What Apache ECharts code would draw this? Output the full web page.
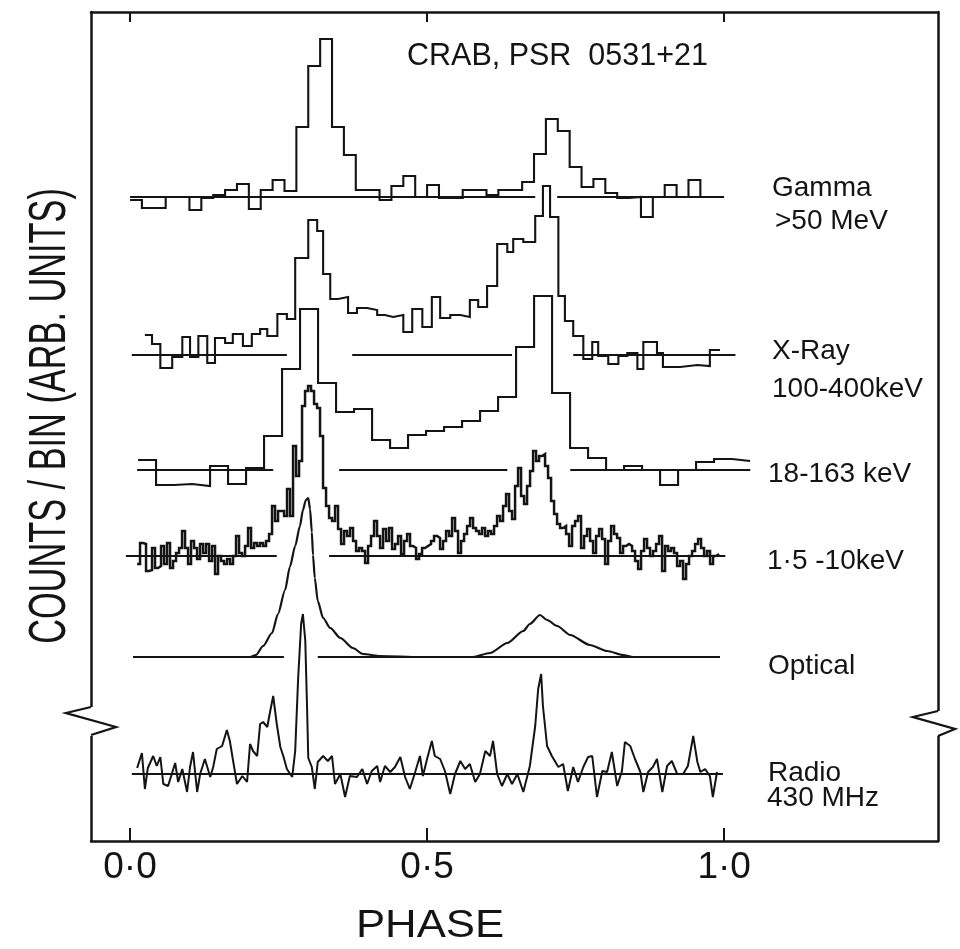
<!DOCTYPE html>
<html>
<head>
<meta charset="utf-8">
<script src="https://cdn.jsdelivr.net/npm/echarts@6/dist/echarts.min.js"></script>
<style>
html,body{margin:0;padding:0;background:#fff}
#chart{width:960px;height:949px}
</style>
</head>
<body>
<div id="chart"></div>
<script>
// ---- phase axis ----
const phaseTicks = [0, 0.5, 1];
const phaseTickLabels = ['0·0', '0·5', '1·0'];

// ---- Gamma >50 MeV : 50 equal bins starting at phase 0 ----
const gammaStart = 0;
const gammaWidth = 0.02;
const gammaCounts = [-3, -11, -11, 0, 0, -13, -1, 2, 7, 13, -12, 7, 17, 6, 70, 131, 158, 70, 42, 7,
  7, -3, 11, 21, 0, 12, -1, -1, 7, 7, 2, 7, 7, 15, 43, 78, 66, 30, 10, 18,
  4, -1, 0, -20, 0, 12, 0, 17, 0, 0];

// ---- X-Ray 100-400 keV : bin edges (phase) and counts ----
const hardEdges = [0.025, 0.037, 0.051, 0.071, 0.088, 0.101, 0.115, 0.130, 0.143, 0.160,
  0.173, 0.190, 0.205, 0.219, 0.231, 0.248, 0.264, 0.278, 0.300, 0.315,
  0.325, 0.337, 0.350, 0.367, 0.382, 0.399, 0.416, 0.429, 0.443, 0.460,
  0.475, 0.492, 0.508, 0.522, 0.539, 0.556, 0.572, 0.586, 0.601, 0.618,
  0.635, 0.645, 0.662, 0.682, 0.695, 0.707, 0.721, 0.732, 0.746, 0.763,
  0.778, 0.788, 0.805, 0.822, 0.837, 0.854, 0.864, 0.887, 0.897, 0.926,
  0.955, 0.976, 0.993];
const hardCounts = [20, 11, -13, -2, 18, -2, 19, -8, 17, 12,
  21, 9, 21, 26, 19, 41, 36, 97, 135, 124,
  81, 56, 58, 42, 47, 45, 40, 38, 40, 23,
  46, 28, 58, 37, 40, 38, 55, 48, 69, 111,
  103, 116, 113, 139, 169, 138, 59, 34, 19, -4,
  13, -1, -9, -1, 2, -14, 13, 2, -12, -10,
  -11, 5];

// ---- 18-163 keV : 34 equal bins ----
const midStart = 0.0135;
const midWidth = 0.0303;
const midCounts = [10, -15, -14, -16, 4, -14, 2, 34, 101, 161, 87, 58, 61, 30, 22, 35, 39, 43, 49, 59,
  73, 123, 174, 77, 22, 12, 0, 4, 0, -15, 0, 8, 11, 9];

// ---- 1.5-10 keV : 194 fine bins ----
const softStart = 0.0118;
const softWidth = 0.00505;
const softCounts = [
  -8, 13, 12, -15, -14, 8, -12, -10, 10, -8,
  13, -12, -5, 3, 8, 25, 8, -8, 15, 8,
  -3, 12, 3, 12, -5, 10, -18, 0, -5, -8,
  -3, -8, 0, 20, 3, 0, 10, 28, 8, 13,
  10, 13, 10, 15, 22, 50, 35, 45, 45, 40,
  67, 40, 110, 80, 95, 150, 165, 170, 165, 152,
  148, 120, 68, 50, 38, 35, 50, 27, 12, 25,
  20, 28, 15, 5, 8, 5, -7, 10, 20, 35,
  20, 8, 27, 15, 28, 7, 12, 20, 2, 15,
  22, 10, 8, -3, 2, 8, 10, 12, 15, 20,
  18, 7, 15, 25, 20, 38, 25, 3, 15, 22,
  30, 38, 28, 25, 22, 28, 20, 25, 22, 30,
  40, 35, 50, 62, 45, 37, 70, 88, 60, 52,
  70, 85, 105, 95, 100, 102, 90, 78, 55, 42,
  32, 28, 30, 22, 10, 30, 35, 40, 8, 20,
  27, 15, 3, 20, 27, 17, -8, 15, 30, 22,
  18, 3, 10, 12, 10, 5, -5, -13, 5, 17,
  8, 0, 5, 12, 20, -15, 10, 5, 8, 3,
  -10, -5, -23, -8, 0, 5, 12, 17, 8, 0,
  5, -8, 0, 2];

// ---- Optical light curve ----
const opticalPhase = [0.005, 0.202, 0.212, 0.224, 0.239, 0.249, 0.261, 0.269, 0.278, 0.286,
  0.291, 0.296, 0.300, 0.303, 0.306, 0.308, 0.311, 0.316, 0.325, 0.337,
  0.354, 0.375, 0.392, 0.421, 0.488, 0.577, 0.606, 0.635, 0.662, 0.673,
  0.690, 0.702, 0.719, 0.741, 0.774, 0.803, 0.830, 0.847, 0.993];
const opticalFlux = [0, 0, 2, 11, 24, 43, 67, 90, 111, 131,
  147, 157, 159, 148, 125, 102, 79, 56, 39, 29,
  19, 9, 3, 1, 0, 0, 4, 14, 26, 33,
  42, 37, 31, 22, 12, 6, 2, 0, 0];

// ---- Radio 430 MHz profile ----
const radioPhase = [0.012, 0.020, 0.025, 0.030, 0.039, 0.045, 0.051, 0.056, 0.064, 0.076,
  0.081, 0.088, 0.096, 0.101, 0.106, 0.113, 0.118, 0.126, 0.135, 0.140,
  0.146, 0.155, 0.163, 0.168, 0.173, 0.180, 0.189, 0.197, 0.202, 0.207,
  0.214, 0.219, 0.224, 0.231, 0.236, 0.241, 0.247, 0.253, 0.258, 0.264,
  0.273, 0.278, 0.283, 0.288, 0.291, 0.295, 0.298, 0.300, 0.306, 0.311,
  0.316, 0.325, 0.333, 0.340, 0.345, 0.354, 0.362, 0.370, 0.382, 0.391,
  0.399, 0.407, 0.416, 0.421, 0.429, 0.438, 0.446, 0.455, 0.463, 0.471,
  0.480, 0.488, 0.493, 0.500, 0.508, 0.513, 0.522, 0.530, 0.539, 0.547,
  0.556, 0.564, 0.572, 0.581, 0.589, 0.598, 0.606, 0.611, 0.618, 0.626,
  0.635, 0.643, 0.652, 0.662, 0.673, 0.682, 0.687, 0.692, 0.695, 0.702,
  0.710, 0.721, 0.729, 0.737, 0.746, 0.754, 0.763, 0.771, 0.778, 0.786,
  0.795, 0.803, 0.811, 0.820, 0.828, 0.833, 0.842, 0.850, 0.859, 0.864,
  0.872, 0.880, 0.887, 0.896, 0.904, 0.912, 0.921, 0.931, 0.939, 0.948,
  0.955, 0.960, 0.968, 0.976, 0.981, 0.988];
const radioFlux = [6, 21, -15, 6, 18, 8, 17, -10, -12, 11,
  -8, 5, -18, 7, 22, -18, 0, 15, -3, 7,
  25, 28, 44, 33, 15, -10, -2, -8, 30, 23,
  18, 50, 52, 47, 63, 78, 50, 27, 18, 5,
  -3, 23, 96, 150, 160, 133, 66, 16, 7, -15,
  12, 18, 13, 18, -10, 0, -23, -2, -3, 5,
  -10, 3, 8, -8, 8, 2, 7, 17, -3, -15,
  2, 18, -2, 15, 33, 18, 15, 3, -20, 0,
  13, 5, 10, -8, 0, 23, 18, 33, 0, -12,
  0, -10, 0, -18, 8, 48, 85, 100, 68, 28,
  18, 7, 10, -17, 7, -8, 7, 17, 18, -23,
  3, 2, 22, -12, 3, 32, 28, 15, 2, -18,
  2, 7, 15, -18, 8, 13, 0, 0, 8, 38,
  12, 2, 5, -2, -23, 2];

// ---- band labels ----
const bandLabels = ['Gamma', '>50 MeV', 'X-Ray', '100-400keV', '18-163 keV', '1·5 -10keV', 'Optical', 'Radio', '430 MHz'];
const plotTitle = 'CRAB, PSR  0531+21';
const xName = 'PHASE';
const yName = 'COUNTS / BIN (ARB. UNITS)';

// ---- layout: vertical offset of each profile and the stretches of its zero line ----
const level = { gamma: 644, hard: 486, mid: 371, soft: 285, optical: 184, radio: 67 };
const zeroRuns = {
  gamma: [[0, 0.682], [0.719, 0.997]],
  hard: [[0.003, 0.264], [0.374, 0.643], [0.746, 1.019]],
  mid: [[0.012, 0.241], [0.352, 0.635], [0.741, 1.044]],
  soft: [[-0.007, 0.247], [0.335, 1.002]],
  optical: [[0.005, 0.259], [0.316, 0.993]],
  radio: [[0.003, 0.998]]
};

const INK = '#141414';
const FONT = "'Liberation Sans', Arial, sans-serif";

function uniformEdges(start, width, n) {
  const e = [];
  for (let i = 0; i <= n; i++) e.push(start + i * width);
  return e;
}
function histData(edges, counts, base) {
  const d = counts.map((c, i) => [edges[i], base + c]);
  d.push([edges[counts.length], base + counts[counts.length - 1]]);
  return d;
}
function curveData(ph, val, base) {
  return ph.map((p, i) => [p, base + val[i]]);
}

const series = [];
Object.keys(zeroRuns).forEach(k => {
  zeroRuns[k].forEach(r => {
    series.push({
      type: 'line', symbol: 'none', silent: true,
      data: [[r[0], level[k]], [r[1], level[k]]],
      lineStyle: { color: INK, width: 1.9 }
    });
  });
});
function hist(data, w) {
  return { type: 'line', step: 'end', symbol: 'none', data, lineStyle: { color: INK, width: w, join: 'miter' } };
}
series.push(hist(histData(uniformEdges(gammaStart, gammaWidth, gammaCounts.length), gammaCounts, level.gamma), 2.1));
series.push(hist(histData(hardEdges, hardCounts, level.hard), 2.1));
series.push(hist(histData(uniformEdges(midStart, midWidth, midCounts.length), midCounts, level.mid), 2.1));
series.push(hist(histData(uniformEdges(softStart, softWidth, softCounts.length), softCounts, level.soft), 2.5));
series.push({ type: 'line', symbol: 'none', smooth: 0.25, smoothMonotone: 'x',
  data: curveData(opticalPhase, opticalFlux, level.optical), lineStyle: { color: INK, width: 2.2 } });
series.push({ type: 'line', symbol: 'none',
  data: curveData(radioPhase, radioFlux, level.radio), lineStyle: { color: INK, width: 2 } });

const xMin = -0.0657, xMax = 1.36;
const frameLine = { show: true, onZero: false, lineStyle: { color: INK, width: 2.5 } };

const chart = echarts.init(document.getElementById('chart'));
chart.setOption({
  animation: false,
  backgroundColor: '#ffffff',
  grid: { left: 91, right: 22, top: 12, bottom: 108 },
  xAxis: [
    {
      type: 'value', min: xMin, max: xMax, position: 'bottom',
      axisLine: frameLine,
      axisTick: { show: true, inside: true, length: 13, customValues: phaseTicks, lineStyle: { color: INK, width: 2 } },
      axisLabel: {
        customValues: phaseTicks, margin: 8, fontSize: 37, color: INK, fontFamily: FONT,
        formatter: v => phaseTickLabels[phaseTicks.findIndex(t => Math.abs(t - v) < 1e-6)]
      },
      splitLine: { show: false }
    },
    {
      type: 'value', min: xMin, max: xMax, position: 'top',
      axisLine: frameLine,
      axisTick: { show: true, inside: true, length: 10, customValues: phaseTicks, lineStyle: { color: INK, width: 2 } },
      axisLabel: { show: false },
      splitLine: { show: false }
    }
  ],
  yAxis: [
    { type: 'value', min: 0, max: 829, position: 'left', axisLine: frameLine,
      axisTick: { show: false }, axisLabel: { show: false }, splitLine: { show: false } },
    { type: 'value', min: 0, max: 829, position: 'right', axisLine: frameLine,
      axisTick: { show: false }, axisLabel: { show: false }, splitLine: { show: false } }
  ],
  series: series.map(s => Object.assign({ xAxisIndex: 0, yAxisIndex: 0 }, s)),
  graphic: [
    // axis-break marks on both frame sides
    { type: 'rect', z: 100, shape: { x: 84, y: 707, width: 14, height: 29 }, style: { fill: '#fff' } },
    { type: 'polyline', z: 101, shape: { points: [[91, 707], [66, 713], [116, 727], [91, 735]] },
      style: { stroke: INK, lineWidth: 2.3, fill: null } },
    { type: 'rect', z: 100, shape: { x: 931, y: 711, width: 14, height: 25 }, style: { fill: '#fff' } },
    { type: 'polyline', z: 101, shape: { points: [[938, 711], [913, 717], [955, 729], [938, 736]] },
      style: { stroke: INK, lineWidth: 2.3, fill: null } },
    // titles and labels
    { type: 'text', z: 110, x: 407, y: 41, style: { text: plotTitle, font: '30.5px ' + FONT, fill: INK } },
    { type: 'text', z: 110, x: 430, y: 908, scaleX: 1.15,
      style: { text: xName, font: '38px ' + FONT, fill: INK, textAlign: 'center' } },
    { type: 'text', z: 110, x: 51, y: 416, rotation: Math.PI / 2, scaleX: 0.66,
      style: { text: yName, font: '52px ' + FONT, fill: INK, textAlign: 'center', textVerticalAlign: 'middle' } },
    { type: 'text', z: 110, x: 772, y: 174, style: { text: bandLabels[0], font: '28px ' + FONT, fill: INK } },
    { type: 'text', z: 110, x: 775, y: 207, style: { text: bandLabels[1], font: '28px ' + FONT, fill: INK } },
    { type: 'text', z: 110, x: 772, y: 337, style: { text: bandLabels[2], font: '28px ' + FONT, fill: INK } },
    { type: 'text', z: 110, x: 772, y: 375, style: { text: bandLabels[3], font: '28px ' + FONT, fill: INK } },
    { type: 'text', z: 110, x: 768, y: 460, style: { text: bandLabels[4], font: '28px ' + FONT, fill: INK } },
    { type: 'text', z: 110, x: 767, y: 547, style: { text: bandLabels[5], font: '28px ' + FONT, fill: INK } },
    { type: 'text', z: 110, x: 768, y: 652, style: { text: bandLabels[6], font: '28px ' + FONT, fill: INK } },
    { type: 'text', z: 110, x: 768, y: 759, style: { text: bandLabels[7], font: '28px ' + FONT, fill: INK } },
    { type: 'text', z: 110, x: 767, y: 784, style: { text: bandLabels[8], font: '28px ' + FONT, fill: INK } }
  ]
});
</script>
</body>
</html>
